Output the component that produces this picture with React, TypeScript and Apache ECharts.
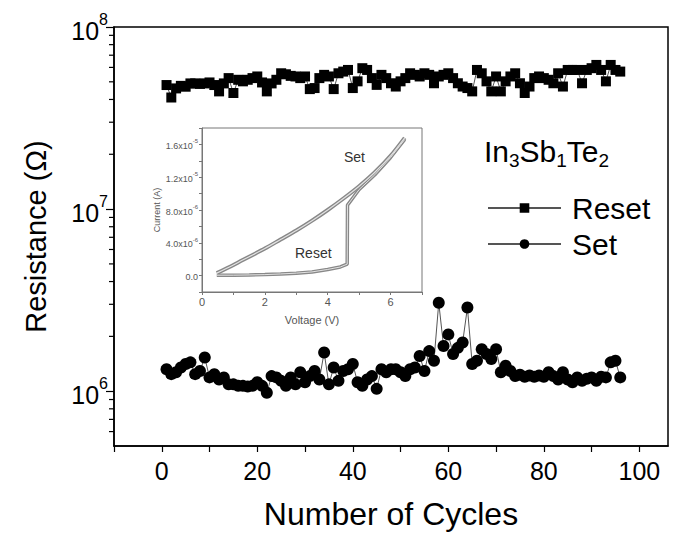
import React, { useEffect, useRef } from "react";
import * as echarts from "echarts";

const FONT = "'Liberation Sans', Arial, Helvetica, sans-serif";

// ---- main chart data ----
const cycles = [
  1, 2, 3, 4, 5, 6, 7, 8, 9, 10, 11, 12, 13, 14, 15, 16, 17, 18, 19, 20,
  21, 22, 23, 24, 25, 26, 27, 28, 29, 30, 31, 32, 33, 34, 35, 36, 37, 38, 39, 40,
  41, 42, 43, 44, 45, 46, 47, 48, 49, 50, 51, 52, 53, 54, 55, 56, 57, 58, 59, 60,
  61, 62, 63, 64, 65, 66, 67, 68, 69, 70, 71, 72, 73, 74, 75, 76, 77, 78, 79, 80,
  81, 82, 83, 84, 85, 86, 87, 88, 89, 90, 91, 92, 93, 94, 95, 96,
];

const resetOhm = [
  4.8e7, 4.1e7, 4.6e7, 4.75e7, 4.7e7, 4.9e7, 4.9e7, 4.87e7, 4.9e7, 4.96e7,
  4.8e7, 4.43e7, 4.9e7, 5.24e7, 4.34e7, 5.13e7, 5.03e7, 5.13e7, 5.24e7, 5.35e7,
  4.96e7, 4.43e7, 4.9e7, 5.13e7, 5.57e7, 5.5e7, 5.39e7, 5.35e7, 5.24e7, 5.35e7,
  4.56e7, 4.62e7, 5.24e7, 5.46e7, 5.35e7, 4.56e7, 5.57e7, 5.69e7, 5.81e7, 4.62e7,
  5.03e7, 5.94e7, 5.81e7, 5.24e7, 4.81e7, 5.46e7, 5.24e7, 4.91e7, 4.71e7, 5.03e7,
  5.24e7, 5.57e7, 5.46e7, 5.35e7, 5.57e7, 5.46e7, 4.91e7, 5.35e7, 5.46e7, 5.57e7,
  5.24e7, 4.91e7, 4.71e7, 4.62e7, 4.43e7, 5.81e7, 5.57e7, 5.03e7, 4.43e7, 5.35e7,
  4.43e7, 5.03e7, 5.35e7, 5.57e7, 4.91e7, 4.34e7, 4.71e7, 5.24e7, 5.35e7, 5.24e7,
  5.13e7, 4.91e7, 5.57e7, 4.71e7, 5.81e7, 5.81e7, 5.81e7, 4.91e7, 5.81e7, 5.94e7,
  6.19e7, 5.81e7, 5.03e7, 6.19e7, 5.81e7, 5.69e7,
];

const setOhm = [
  1.32e6, 1.24e6, 1.27e6, 1.35e6, 1.41e6, 1.44e6, 1.24e6, 1.29e6, 1.53e6, 1.19e6,
  1.24e6, 1.16e6, 1.19e6, 1.09e6, 1.09e6, 1.07e6, 1.07e6, 1.06e6, 1.07e6, 1.12e6,
  1.07e6, 0.98e6, 1.21e6, 1.19e6, 1.14e6, 1.07e6, 1.19e6, 1.09e6, 1.27e6, 1.12e6,
  1.21e6, 1.29e6, 1.16e6, 1.63e6, 1.09e6, 1.35e6, 1.14e6, 1.29e6, 1.32e6, 1.41e6,
  1.12e6, 1.07e6, 1.16e6, 1.21e6, 1.03e6, 1.32e6, 1.27e6, 1.32e6, 1.32e6, 1.27e6,
  1.21e6, 1.32e6, 1.35e6, 1.56e6, 1.29e6, 1.66e6, 1.47e6, 3.06e6, 1.77e6, 2.05e6,
  1.6e6, 1.73e6, 1.85e6, 2.88e6, 1.41e6, 1.47e6, 1.7e6, 1.6e6, 1.5e6, 1.7e6,
  1.27e6, 1.38e6, 1.29e6, 1.21e6, 1.23e6, 1.2e6, 1.22e6, 1.2e6, 1.22e6, 1.2e6,
  1.27e6, 1.21e6, 1.16e6, 1.27e6, 1.16e6, 1.12e6, 1.19e6, 1.14e6, 1.17e6, 1.19e6,
  1.14e6, 1.2e6, 1.19e6, 1.44e6, 1.47e6, 1.19e6,
];

const xMin = -10;
const xMax = 106;
const yMin = 5e5;
const yMax = 1e8;
const yMinorTicks = [
  6e5, 7e5, 8e5, 9e5,
  2e6, 3e6, 4e6, 5e6, 6e6, 7e6, 8e6, 9e6,
  2e7, 3e7, 4e7, 5e7, 6e7, 7e7, 8e7, 9e7,
];

// ---- inset I-V data ----
const ivSetV = [0.47, 1.0, 1.5, 2.0, 2.5, 3.0, 3.5, 4.0, 4.5, 5.0, 5.5, 6.0, 6.45];
const ivSetI = [0.3e-6, 1.3e-6, 2.3e-6, 3.3e-6, 4.4e-6, 5.5e-6, 6.7e-6, 8.0e-6, 9.4e-6, 10.9e-6, 12.6e-6, 14.6e-6, 16.8e-6];
const ivResetV = [0.47, 1.0, 1.5, 2.0, 2.5, 3.0, 3.5, 4.0, 4.4, 4.62, 4.63, 5.0, 5.5, 6.0, 6.45];
const ivResetI = [0.05e-6, 0.05e-6, 0.08e-6, 0.12e-6, 0.2e-6, 0.3e-6, 0.45e-6, 0.75e-6, 1.05e-6, 1.4e-6, 8.6e-6, 10.5e-6, 12.3e-6, 14.4e-6, 16.6e-6];

const zip = (a: number[], b: number[]) => a.map((v, i) => [v, b[i]]);

export default function App() {
  const ref = useRef<HTMLDivElement>(null);
  useEffect(() => {
    document.body.style.margin = "0";
    if (!ref.current) return;
    const chart = echarts.init(ref.current, undefined, { renderer: "svg" });
    const setPts = zip(ivSetV, ivSetI);
    const resetPts = zip(ivResetV, ivResetI);
    const option: any = {
      animation: false,
      backgroundColor: "#fff",
      textStyle: { fontFamily: FONT },
      grid: [
        { left: 114, top: 27, right: 10, bottom: 97, show: true, borderColor: "#000", borderWidth: 1.5, containLabel: false },
        { left: 202, top: 128, width: 220, height: 164, show: true, borderColor: "#777", borderWidth: 1, containLabel: false },
      ],
      legend: {
        data: ["Reset", "Set"],
        orient: "vertical",
        left: 482,
        top: 188,
        itemWidth: 73,
        itemHeight: 12,
        itemGap: 6,
        textStyle: { fontSize: 30, color: "#000", fontFamily: FONT, padding: [0, 0, 0, 6] },
      },
      xAxis: [
        {
          gridIndex: 0,
          type: "value",
          min: xMin,
          max: xMax,
          interval: 10,
          axisLine: { onZero: false, lineStyle: { color: "#000", width: 1.5 } },
          axisTick: { length: 6, lineStyle: { color: "#000", width: 1.2 } },
          axisLabel: {
            fontSize: 25,
            color: "#000",
            margin: 12,
            fontFamily: FONT,
            showMaxLabel: false,
            formatter: (v: number) => (Math.round(v) % 20 === 0 ? String(Math.round(v)) : ""),
          },
          splitLine: { show: false },
          name: "Number of Cycles",
          nameLocation: "middle",
          nameGap: 52,
          nameTextStyle: { fontSize: 32, color: "#000", fontFamily: FONT },
        },
        {
          gridIndex: 1,
          type: "value",
          min: 0,
          max: 7,
          interval: 1,
          axisLine: { onZero: false, lineStyle: { color: "#777", width: 1 } },
          axisTick: { length: 3, lineStyle: { color: "#777" } },
          axisLabel: {
            fontSize: 11,
            color: "#555",
            margin: 4,
            fontFamily: FONT,
            formatter: (v: number) => (Math.round(v) % 2 === 0 ? String(Math.round(v)) : ""),
          },
          splitLine: { show: false },
          name: "Voltage (V)",
          nameLocation: "middle",
          nameGap: 22,
          nameTextStyle: { fontSize: 11, color: "#555", fontFamily: FONT },
        },
      ],
      yAxis: [
        {
          gridIndex: 0,
          type: "log",
          logBase: 10,
          min: yMin,
          max: yMax,
          axisLine: { onZero: false, lineStyle: { color: "#000", width: 1.5 } },
          axisTick: { length: 8, lineStyle: { color: "#000", width: 1.2 } },
          minorTick: { show: false },
          axisLabel: {
            margin: 6,
            color: "#000",
            fontFamily: FONT,
            showMinLabel: false,
            formatter: (v: number) => {
              const l = Math.log10(v);
              const e = Math.round(l);
              if (Math.abs(l - e) > 1e-6) return "";
              return `{b|10}{s|${e}}`;
            },
            rich: {
              b: { fontSize: 25, lineHeight: 32, verticalAlign: "bottom", fontFamily: FONT, color: "#000" },
              s: { fontSize: 16, verticalAlign: "top", fontFamily: FONT, color: "#000" },
            },
          },
          splitLine: { show: false },
          name: "Resistance (Ω)",
          nameLocation: "middle",
          nameGap: 64,
          nameTextStyle: { fontSize: 29, color: "#000", fontFamily: FONT },
        },
        {
          gridIndex: 1,
          type: "value",
          min: -2e-6,
          max: 1.8e-5,
          interval: 2e-6,
          axisLine: { onZero: false, lineStyle: { color: "#777", width: 1 } },
          axisTick: { length: 3, lineStyle: { color: "#777" } },
          axisLabel: {
            margin: 4,
            color: "#555",
            fontFamily: FONT,
            formatter: (v: number) => {
              const k = Math.round(v * 1e6);
              if (k < 0 || k % 4 !== 0) return "";
              if (k === 0) return "{m|0.0}";
              if (k >= 10) return `{m|${(k / 10).toFixed(1)}x10}{e|-5}`;
              return `{m|${k.toFixed(1)}x10}{e|-6}`;
            },
            rich: {
              m: { fontSize: 9, lineHeight: 12, verticalAlign: "bottom", color: "#555", fontFamily: FONT },
              e: { fontSize: 6, verticalAlign: "top", color: "#555", fontFamily: FONT },
            },
          },
          splitLine: { show: false },
          name: "Current (A)",
          nameLocation: "middle",
          nameGap: 36,
          nameTextStyle: { fontSize: 9, color: "#555", fontFamily: FONT },
        },
      ],
      graphic: [
        {
          type: "text",
          left: 484,
          top: 136,
          style: {
            text: "{b|In}{s|3}{b|Sb}{s|1}{b|Te}{s|2}",
            rich: {
              b: { fontSize: 30, lineHeight: 34, verticalAlign: "top", fill: "#000", fontFamily: FONT },
              s: { fontSize: 19, verticalAlign: "bottom", fill: "#000", fontFamily: FONT },
            },
          },
        },
        {
          type: "text",
          left: 344,
          top: 150,
          style: { text: "Set", fontSize: 14, fill: "#333", fontFamily: FONT },
        },
        {
          type: "text",
          left: 295,
          top: 246,
          style: { text: "Reset", fontSize: 14, fill: "#333", fontFamily: FONT },
        },
      ],
      series: [
        {
          name: "Reset",
          type: "line",
          xAxisIndex: 0,
          yAxisIndex: 0,
          data: zip(cycles, resetOhm),
          symbol: "rect",
          symbolSize: 10,
          itemStyle: { color: "#000" },
          lineStyle: { color: "#555", width: 1 },
        },
        {
          name: "Set",
          type: "line",
          xAxisIndex: 0,
          yAxisIndex: 0,
          data: zip(cycles, setOhm),
          symbol: "circle",
          symbolSize: 12,
          itemStyle: { color: "#000" },
          lineStyle: { color: "#555", width: 1 },
        },
        {
          type: "custom",
          xAxisIndex: 0,
          yAxisIndex: 0,
          silent: true,
          clip: false,
          data: yMinorTicks.map((v) => [xMin, v]),
          renderItem: (_p: any, api: any) => {
            const p = api.coord([api.value(0), api.value(1)]);
            return {
              type: "line",
              shape: { x1: p[0] - 5, y1: p[1], x2: p[0], y2: p[1] },
              style: { stroke: "#000", lineWidth: 1.2 },
            };
          },
        },
        {
          name: "ivSetOuter",
          type: "line",
          xAxisIndex: 1,
          yAxisIndex: 1,
          data: setPts,
          symbol: "none",
          smooth: 0.3,
          lineStyle: { color: "#888", width: 4 },
        },
        {
          name: "ivResetOuter",
          type: "line",
          xAxisIndex: 1,
          yAxisIndex: 1,
          data: resetPts,
          symbol: "none",
          lineStyle: { color: "#888", width: 3.5 },
        },
        {
          name: "ivSetInner",
          type: "line",
          xAxisIndex: 1,
          yAxisIndex: 1,
          data: setPts,
          symbol: "none",
          smooth: 0.3,
          lineStyle: { color: "#e2e2e2", width: 1.2 },
        },
        {
          name: "ivResetInner",
          type: "line",
          xAxisIndex: 1,
          yAxisIndex: 1,
          data: resetPts,
          symbol: "none",
          lineStyle: { color: "#e2e2e2", width: 1 },
        },
      ],
    };
    chart.setOption(option);
    return () => chart.dispose();
  }, []);
  return <div ref={ref} style={{ width: 678, height: 543 }} />;
}
